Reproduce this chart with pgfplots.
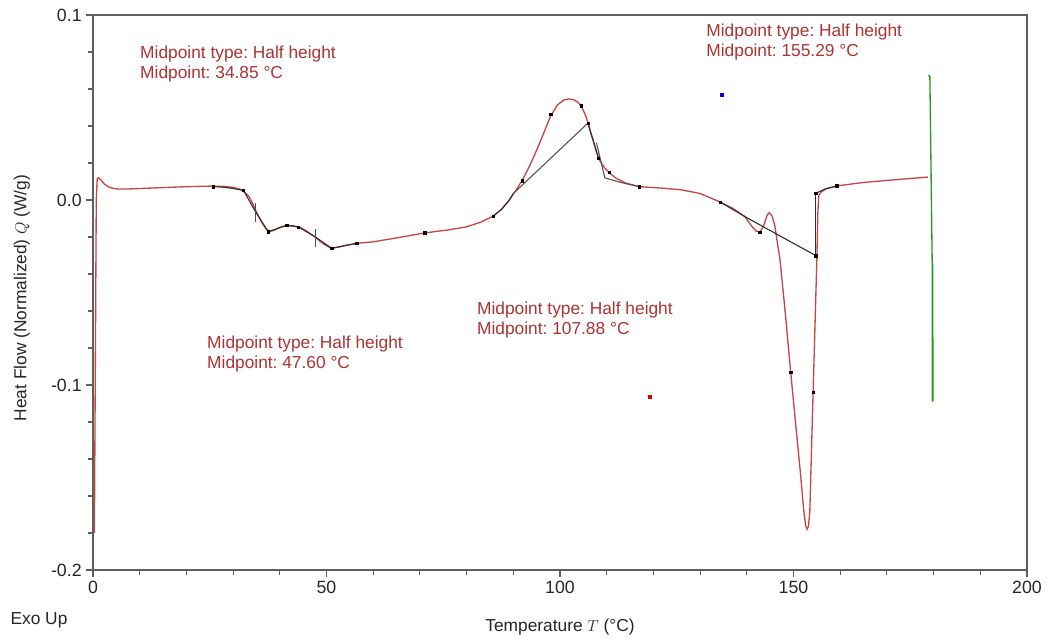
\documentclass[border=0pt]{standalone}
\usepackage{pgfplots}
\pgfplotsset{compat=1.18}
\usepackage{fontspec}
\setmainfont{Liberation Sans}
\frenchspacing
\definecolor{curve}{RGB}{200,70,70}
\definecolor{annot}{RGB}{175,50,50}
\definecolor{axisgray}{RGB}{95,95,95}
\definecolor{mygreen}{RGB}{40,150,40}
\definecolor{blk}{RGB}{45,45,45}
\definecolor{base}{RGB}{80,80,80}
\begin{document}
\begin{tikzpicture}[x=1pt,y=1pt]
\begin{axis}[
 at={(0,0)}, anchor=south west, scale only axis,
 width=700.5pt, height=416.25pt,
 xmin=0, xmax=200, ymin=-0.2, ymax=0.1,
 axis line style={axisgray, line width=1pt},
 xtick={0,50,100,150,200}, xticklabels={0,50,100,150,200},
 ytick={-0.2,-0.1,0,0.1}, yticklabels={-0.2,-0.1,0.0,0.1},
 minor x tick num=4, minor y tick num=4,
 tick align=outside, xtick pos=bottom, ytick pos=left,
 major tick length=5pt, minor tick length=3.5pt,
 tick style={axisgray, line width=0.8pt},
 ticklabel style={font=\fontsize{13.3}{15}\selectfont, text=black!85},
 xlabel={Temperature \(T\) (°C)},
 ylabel={Heat Flow (Normalized) \(Q\) (W/g)},
 label style={font=\fontsize{13}{15}\selectfont, text=black!85},
 xlabel style={at={(axis description cs:0.5,-0.1028)}, anchor=center},
 ylabel style={at={(axis description cs:-0.076,0.49)}, anchor=center},
 clip=false,
]
% main red curve
\addplot[curve, line width=1pt] coordinates {
(0.3,-0.180)(0.5,-0.09)(0.7,0.000)(0.9,0.0115)(1.2,0.0120)(1.8,0.0105)(2.5,0.0085)(3.5,0.0068)(5,0.0060)(7,0.0059)(10,0.0062)(15,0.0067)(20,0.0072)(25,0.0075)(28,0.0074)(30,0.0068)(31.5,0.0058)(32.5,0.0042)(33.5,0.0015)(34.3,-0.0025)(35,-0.0065)(36,-0.0115)(37,-0.0155)(37.8,-0.0170)(38.7,-0.0165)(40,-0.0148)(41.5,-0.0138)(43,-0.0140)(44.5,-0.0150)(46,-0.0172)(47.6,-0.0202)(49.5,-0.0240)(51,-0.0260)(52.5,-0.0255)(54.5,-0.0243)(57,-0.0233)(60,-0.0226)(65,-0.0205)(71,-0.0178)(76,-0.0162)(80,-0.0145)(83,-0.0120)(85.7,-0.0087)(87.5,-0.0050)(89,-0.0005)(90.5,0.0050)(92,0.0110)(93.5,0.0185)(95,0.0270)(96.5,0.0360)(98,0.0455)(99.5,0.0515)(100.8,0.0540)(101.8,0.0546)(103,0.0542)(104,0.0525)(104.8,0.0495)(105.5,0.0455)(106.2,0.0400)(107,0.0330)(107.8,0.0260)(108.6,0.0210)(109.5,0.0175)(110.5,0.0148)(112,0.0118)(114,0.0092)(117,0.0072)(122,0.0064)(126,0.0055)(130,0.0035)(134.3,-0.0011)(137,-0.0045)(139.6,-0.0090)(141,-0.0140)(142,-0.0168)(142.8,-0.0173)(143.6,-0.0140)(144.3,-0.0085)(144.8,-0.0068)(145.4,-0.0085)(146,-0.0140)(146.6,-0.0240)(147.1,-0.0320)(148.2,-0.0600)(149.4,-0.0930)(150.5,-0.1220)(151.5,-0.1480)(152.2,-0.1680)(152.6,-0.1760)(152.9,-0.1780)(153.2,-0.1765)(153.5,-0.1680)(153.8,-0.1400)(154.2,-0.1040)(154.6,-0.0680)(155.0,-0.0320)(155.2,-0.0080)(155.4,0.0025)(156,0.0045)(157,0.0060)(159.3,0.0076)(165,0.0095)(172,0.0110)(178.8,0.0124)
};
% green line
\addplot[mygreen, line width=1pt] coordinates {(178.9,0.0675)(179.2,0.0668)(179.7,-0.0345)};
\addplot[mygreen, line width=1.4pt] coordinates {(179.75,-0.0345)(179.8,-0.109)};
% analysis lines
\addplot[blk, line width=0.8pt] coordinates {(25.7,0.0072)(28,0.0069)(30,0.0062)(32.2,0.0052)(34.8,-0.0063)(37.5,-0.0171)(41.5,-0.0137)(44.0,-0.0146)(47.5,-0.0198)(51.1,-0.0261)(56.5,-0.0234)};
\addplot[base, line width=0.8pt] coordinates {(34.85,-0.0016)(34.85,-0.0119)};
\addplot[base, line width=0.8pt] coordinates {(47.6,-0.0157)(47.6,-0.0254)};
\addplot[blk, line width=0.8pt] coordinates {(85.7,-0.0087)(87.5,-0.0050)(89,-0.0005)(90,0.0035)};
\addplot[base, line width=0.8pt] coordinates {(90,0.0035)(106,0.0416)};
\addplot[blk, line width=0.8pt] coordinates {(106,0.0416)(106.6,0.036)(107,0.033)(107.5,0.029)(108.2,0.0227)};
\addplot[base, line width=0.8pt] coordinates {(107.8,0.031)(109.6,0.012)(113,0.0095)(117,0.0072)};
\addplot[blk, line width=0.8pt] coordinates {(134.3,-0.0011)(139.6,-0.0090)(154.8,-0.0301)};
\addplot[blk, line width=0.8pt] coordinates {(154.8,-0.0301)(154.8,0.0037)};
\addplot[blk, line width=0.8pt] coordinates {(154.8,0.0037)(155.5,0.0045)(157,0.0062)(159.3,0.0076)};
\addplot[only marks, mark=square*, mark size=0.9pt, black] coordinates {(25.7,0.0072)(32.2,0.0052)(37.5,-0.0171)(41.5,-0.0137)(44.0,-0.0146)(51.1,-0.0261)(56.5,-0.0234)(71,-0.0178)(85.7,-0.0087)(91.9,0.0103)(98,0.0465)(104.5,0.051)(106,0.0416)(108.2,0.0227)(110.5,0.015)(117,0.0072)(134.3,-0.0011)(149.4,-0.093)(154.2,-0.104)(154.8,-0.0301)(154.8,0.0037)(159.3,0.0076)(142.8,-0.0173)};
\addplot[only marks, mark=square*, mark size=1.1pt, blue] coordinates {(134.7,0.057)};
\addplot[only marks, mark=square*, mark size=1.1pt, red!85!black] coordinates {(119.3,-0.1065)};
% annotations
\node[anchor=north west, inner sep=0pt, align=left, font=\fontsize{13}{14.5}\selectfont, text=annot] at (axis cs:10.06,0.0832) {Midpoint type: Half height\\Midpoint: 34.85 °C};
\node[anchor=north west, inner sep=0pt, align=left, font=\fontsize{13}{14.5}\selectfont, text=annot] at (axis cs:24.4,-0.0735) {Midpoint type: Half height\\Midpoint: 47.60 °C};
\node[anchor=north west, inner sep=0pt, align=left, font=\fontsize{13}{14.5}\selectfont, text=annot] at (axis cs:82.2,-0.0551) {Midpoint type: Half height\\Midpoint: 107.88 °C};
\node[anchor=north west, inner sep=0pt, align=left, font=\fontsize{13}{14.5}\selectfont, text=annot] at (axis cs:131.3,0.0951) {Midpoint type: Half height\\Midpoint: 155.29 °C};
\end{axis}
\node[font=\fontsize{13}{15}\selectfont, text=black!85] at (-40.5,-37.5) {Exo Up};
\pgfresetboundingbox
\path[use as bounding box] (-69.75,-54.75) rectangle (717,427.5);
\end{tikzpicture}
\end{document}
